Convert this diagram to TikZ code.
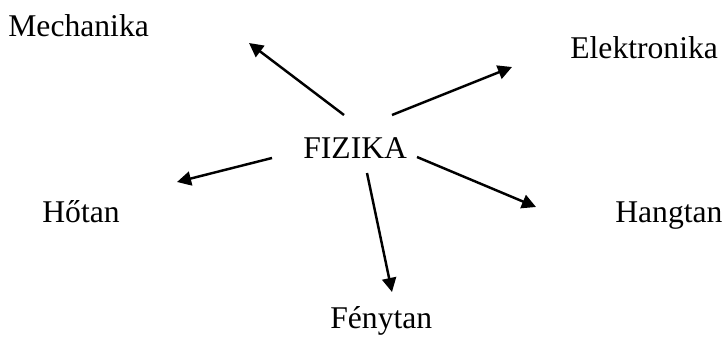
\documentclass[tikz,border=0pt]{standalone}
\usepackage{fontspec}
\setmainfont{Liberation Serif}
\usetikzlibrary{arrows.meta}
\begin{document}
\begin{tikzpicture}[
		ag/.style = {anchor=base west, inner sep=0pt, font=\fontsize{18}{21}\selectfont},
		nyil/.style = {-{Triangle[length=8pt,width=8pt]}, line width=1.4pt},
	]
	\path[use as bounding box] (0,0) rectangle (14.5,6.72);
	\node[ag] (fizika) at (6.06,3.56) {FIZIKA};
	\node[ag] (mech) at (0.16,5.98) {Mechanika};
	\node[ag] (elek) at (11.40,5.56) {Elektronika};
	\node[ag] (ho) at (0.84,2.28) {Hőtan};
	\node[ag] (hang) at (12.30,2.28) {Hangtan};
	\node[ag] (feny) at (6.60,0.15) {Fénytan};
	% arrow ends
	\coordinate (mech-a) at (6.88,4.42);
	\coordinate (mech-b) at (4.98,5.86);
	\coordinate (elek-a) at (7.84,4.42);
	\coordinate (elek-b) at (10.24,5.38);
	\coordinate (ho-a) at (5.44,3.56);
	\coordinate (ho-b) at (3.54,3.08);
	\coordinate (hang-a) at (8.34,3.58);
	\coordinate (hang-b) at (10.72,2.58);
	\coordinate (feny-a) at (7.34,3.26);
	\coordinate (feny-b) at (7.84,0.88);
	\foreach \ag in {mech,elek,ho,hang,feny}
		\draw[nyil] (\ag-a) -- (\ag-b);
\end{tikzpicture}
\end{document}
